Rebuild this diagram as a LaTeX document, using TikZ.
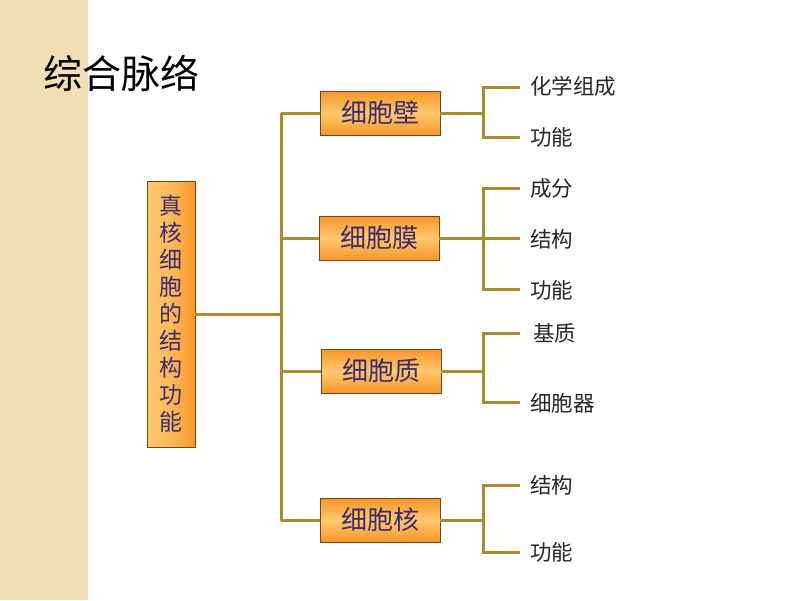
\documentclass[tikz,border=0pt]{standalone}
\usepackage{fontspec}
\setmainfont{Noto Sans CJK SC}
\newfontfamily\cjk{Noto Sans CJK SC}
\usetikzlibrary{calc}
\definecolor{band}{RGB}{240,222,180}
\definecolor{linec}{RGB}{168,140,48}
\definecolor{boxtxt}{RGB}{60,44,110}
\definecolor{boxedge}{RGB}{120,70,20}
\definecolor{orA}{RGB}{247,150,40}
\definecolor{orB}{RGB}{255,200,110}
\tikzset{
  conn/.style={draw=linec, line width=3pt},
  cellbox/.style={draw=boxedge, line width=0.8pt, top color=orA, bottom color=orA, middle color=orB,
    minimum width=120pt, minimum height=44pt, inner sep=0pt, text=boxtxt,
    font=\cjk\fontsize{26}{28}\selectfont},
  mainbox/.style={draw=boxedge, line width=0.8pt, left color=orB, right color=orA, middle color=orB!70!orA,
    minimum width=48pt, minimum height=266pt, inner sep=0pt, text=boxtxt,
    font=\cjk\fontsize{23}{27}\selectfont, align=center},
  leaf/.style={anchor=west, inner sep=0pt, text=black!85, font=\cjk\fontsize{21.5}{24}\selectfont},
  titletxt/.style={anchor=west, inner sep=0pt, text=black, font=\cjk\fontsize{39}{42}\selectfont}
}
\begin{document}
\begin{tikzpicture}[x=1pt,y=-1pt]
\useasboundingbox (0,0) rectangle (800,600);
\fill[band] (0,0) rectangle (88,600);
\node[titletxt] (title) at (43,73) {综合脉络};
\node[mainbox] (main) at (171,314) {真\\核\\细\\胞\\的\\结\\构\\功\\能};
\coordinate (trunkT) at (281,113);
\coordinate (trunkB) at (281,521);
\coordinate (trunkM) at (281,314);
\node[cellbox] (wall) at (380,113) {细胞壁};
\node[cellbox] (memb) at (379,238) {细胞膜};
\node[cellbox] (cyto) at (381,371) {细胞质};
\node[cellbox] (nucl) at (380,520) {细胞核};
\draw[conn] (main.east |- trunkM) -- (trunkM);
\draw[conn] (trunkT) -- (trunkB);
\draw[conn] (trunkT) -- (wall.west);
\draw[conn] (281,238) -- (memb.west);
\draw[conn] (281,371) -- (cyto.west);
\draw[conn] (281,520) -- (nucl.west);
% leaves
\node[leaf] (w1) at (530,86) {化学组成};
\node[leaf] (w2) at (530,137) {功能};
\node[leaf] (m1) at (530,188) {成分};
\node[leaf] (m2) at (530,239) {结构};
\node[leaf] (m3) at (530,290) {功能};
\node[leaf] (c1) at (533,333) {基质};
\node[leaf] (c2) at (530,403) {细胞器};
\node[leaf] (n1) at (530,485) {结构};
\node[leaf] (n2) at (530,552) {功能};
% wall branches
\draw[conn] (wall.east) -- (483,113);
\draw[conn] (520,87) -- (483,87) -- (483,137) -- (520,137);
% membrane
\draw[conn] (memb.east) -- (520,238);
\draw[conn] (520,188) -- (483,188) -- (483,289) -- (520,289);
% cytoplasm
\draw[conn] (cyto.east) -- (483,371);
\draw[conn] (520,333) -- (483,333) -- (483,402) -- (520,402);
% nucleus
\draw[conn] (nucl.east) -- (483,520);
\draw[conn] (520,485) -- (483,485) -- (483,552) -- (520,552);
\end{tikzpicture}
\end{document}
